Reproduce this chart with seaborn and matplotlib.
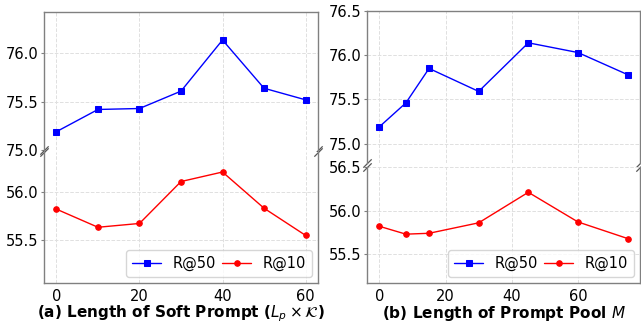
import matplotlib
matplotlib.use("Agg")
import matplotlib.pyplot as plt
import seaborn as sns
from matplotlib.ticker import MultipleLocator

sns.set_style("white")
plt.rcParams['font.family'] = ['DejaVu Sans']
plt.rcParams['text.color'] = 'black'
plt.rcParams['xtick.color'] = 'black'
plt.rcParams['ytick.color'] = 'black'
plt.rcParams['axes.labelcolor'] = 'black'

# ---- data ----
soft_len = [0, 10, 20, 30, 40, 50, 60]
soft_r50 = [75.19, 75.42, 75.43, 75.61, 76.14, 75.64, 75.52]
soft_r10 = [55.82, 55.63, 55.67, 56.11, 56.21, 55.83, 55.545]

pool_len = [0, 8, 15, 30, 45, 60, 75]
pool_r50 = [75.19, 75.46, 75.85, 75.59, 76.14, 76.03, 75.78]
pool_r10 = [55.82, 55.73, 55.74, 55.86, 56.21, 55.87, 55.68]

xlabels = [r"(a) Length of Soft Prompt ($L_p \times \mathcal{K}$)",
           r"(b) Length of Prompt Pool $M$"]

W, H = 641, 327
fig = plt.figure(figsize=(W / 100, H / 100), dpi=100)


def box(x0, x1, y0, y1):
    return [x0 / W, 1 - y1 / H, (x1 - x0) / W, (y1 - y0) / H]


panels = [
    dict(x=soft_len, r50=soft_r50, r10=soft_r10,
         top=box(44, 318, 12, 150), bot=box(44, 318, 152, 283),
         ylt=(75.0, 76.43), ylb=(55.045, 56.42), label=xlabels[0]),
    dict(x=pool_len, r50=pool_r50, r10=pool_r10,
         top=box(367, 640, 11, 163), bot=box(367, 640, 167, 283),
         ylt=(74.78, 76.5), ylb=(55.17, 56.5), label=xlabels[1]),
]

spine_c = '0.5'
for p in panels:
    axt = fig.add_axes(p['top'])
    axb = fig.add_axes(p['bot'], sharex=axt)
    sns.lineplot(x=p['x'], y=p['r50'], ax=axt, color='blue', marker='s',
                 markersize=4.5, markeredgecolor='blue', linewidth=1,
                 label='R@50')
    sns.lineplot(x=p['x'], y=p['r10'], ax=axb, color='red', marker='o',
                 markersize=4, markeredgecolor='red', linewidth=1,
                 label='R@10')
    axt.set_ylim(*p['ylt'])
    axb.set_ylim(*p['ylb'])
    for ax in (axt, axb):
        ax.yaxis.set_major_locator(MultipleLocator(0.5))
        ax.xaxis.set_major_locator(MultipleLocator(20))
        ax.grid(True, linestyle='--', color='0.88', linewidth=0.7)
        ax.set_axisbelow(True)
        for s in ax.spines.values():
            s.set_color(spine_c)
            s.set_linewidth(1.0)
        ax.tick_params(axis='y', length=2.5, color=spine_c, labelsize=10.5,
                       labelcolor='black', pad=1.5, left=True)
        ax.tick_params(axis='x', length=0, labelsize=10.5, labelcolor='black',
                       pad=4)
        ax.set_ylabel('')
    axt.spines['bottom'].set_visible(False)
    axb.spines['top'].set_visible(False)
    axt.tick_params(axis='x', labelbottom=False)
    axt.get_legend().remove()
    # break marks
    kw = dict(marker=[(-1, -1), (1, 1)], markersize=6, linestyle='none',
              color='0.35', mec='0.35', mew=0.9, clip_on=False)
    axt.plot([0, 1], [0, 0], transform=axt.transAxes, **kw)
    axb.plot([0, 1], [1, 1], transform=axb.transAxes, **kw)
    h1, l1 = axt.get_legend_handles_labels()
    h2, l2 = axb.get_legend_handles_labels()
    leg = axb.legend(h1 + h2, l1 + l2, loc='lower right', ncol=2,
                     fontsize=10.5, columnspacing=0.4, handlelength=2.0,
                     handletextpad=0.8, borderaxespad=0.4, frameon=True,
                     fancybox=True)
    for t in leg.get_texts():
        t.set_color('black')
    axb.set_xlabel(p['label'], fontsize=11, fontweight='bold', labelpad=0,
                   color='black')

fig.savefig('out.png', dpi=100)
